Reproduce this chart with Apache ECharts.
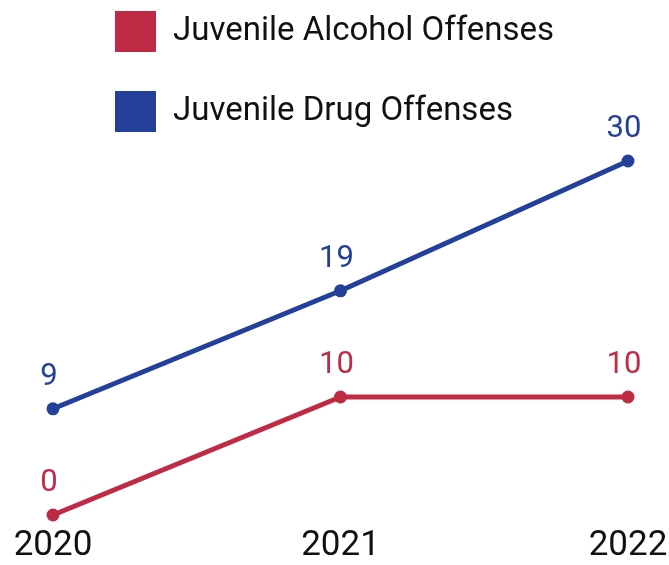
<!DOCTYPE html>
<html><head><meta charset="utf-8">
<script src="https://cdn.jsdelivr.net/npm/echarts@6/dist/echarts.min.js"></script>
<style>html,body{margin:0;padding:0;background:#fff}#c{width:669px;height:565px}</style>
</head><body><div id="c"></div>
<script>
const years = ['2020', '2021', '2022'];
const alcohol = [0, 10, 10];
const drug = [9, 19, 30];
const seriesNames = ['Juvenile Alcohol Offenses', 'Juvenile Drug Offenses'];
const colors = ['#bf2b45', '#23409a'];

const chart = echarts.init(document.getElementById('c'));
const font = 'Roboto';
const labelStyle = (c) => ({ show: true, position: 'top', distance: 10, offset: [-4, 0],
  fontFamily: font, fontSize: 31, color: c });
chart.setOption({
  animation: false,
  color: colors,
  legend: {
    orient: 'vertical', left: 115, top: 11, padding: 0,
    itemWidth: 41, itemHeight: 41, itemGap: 39,
    icon: 'rect',
    textStyle: { fontFamily: font, fontSize: 33, color: '#111', padding: [0, 0, 0, 12] },
    data: seriesNames
  },
  grid: { left: 53, right: 41, top: 161, bottom: 50, containLabel: false, outerBoundsMode: 'none' },
  xAxis: {
    type: 'category', data: years, boundaryGap: false,
    axisLine: { show: false }, axisTick: { show: false }, splitLine: { show: false },
    axisLabel: { fontFamily: font, fontSize: 35, color: '#111', margin: 14 }
  },
  yAxis: { type: 'value', min: 0, max: 30, show: false },
  series: [
    { name: seriesNames[0], type: 'line', data: alcohol, symbol: 'circle', symbolSize: 13,
      lineStyle: { width: 5 }, itemStyle: { color: colors[0] }, label: labelStyle(colors[0]) },
    { name: seriesNames[1], type: 'line', data: drug, symbol: 'circle', symbolSize: 13,
      lineStyle: { width: 5 }, itemStyle: { color: colors[1] }, label: labelStyle(colors[1]) }
  ]
});
</script></body></html>
